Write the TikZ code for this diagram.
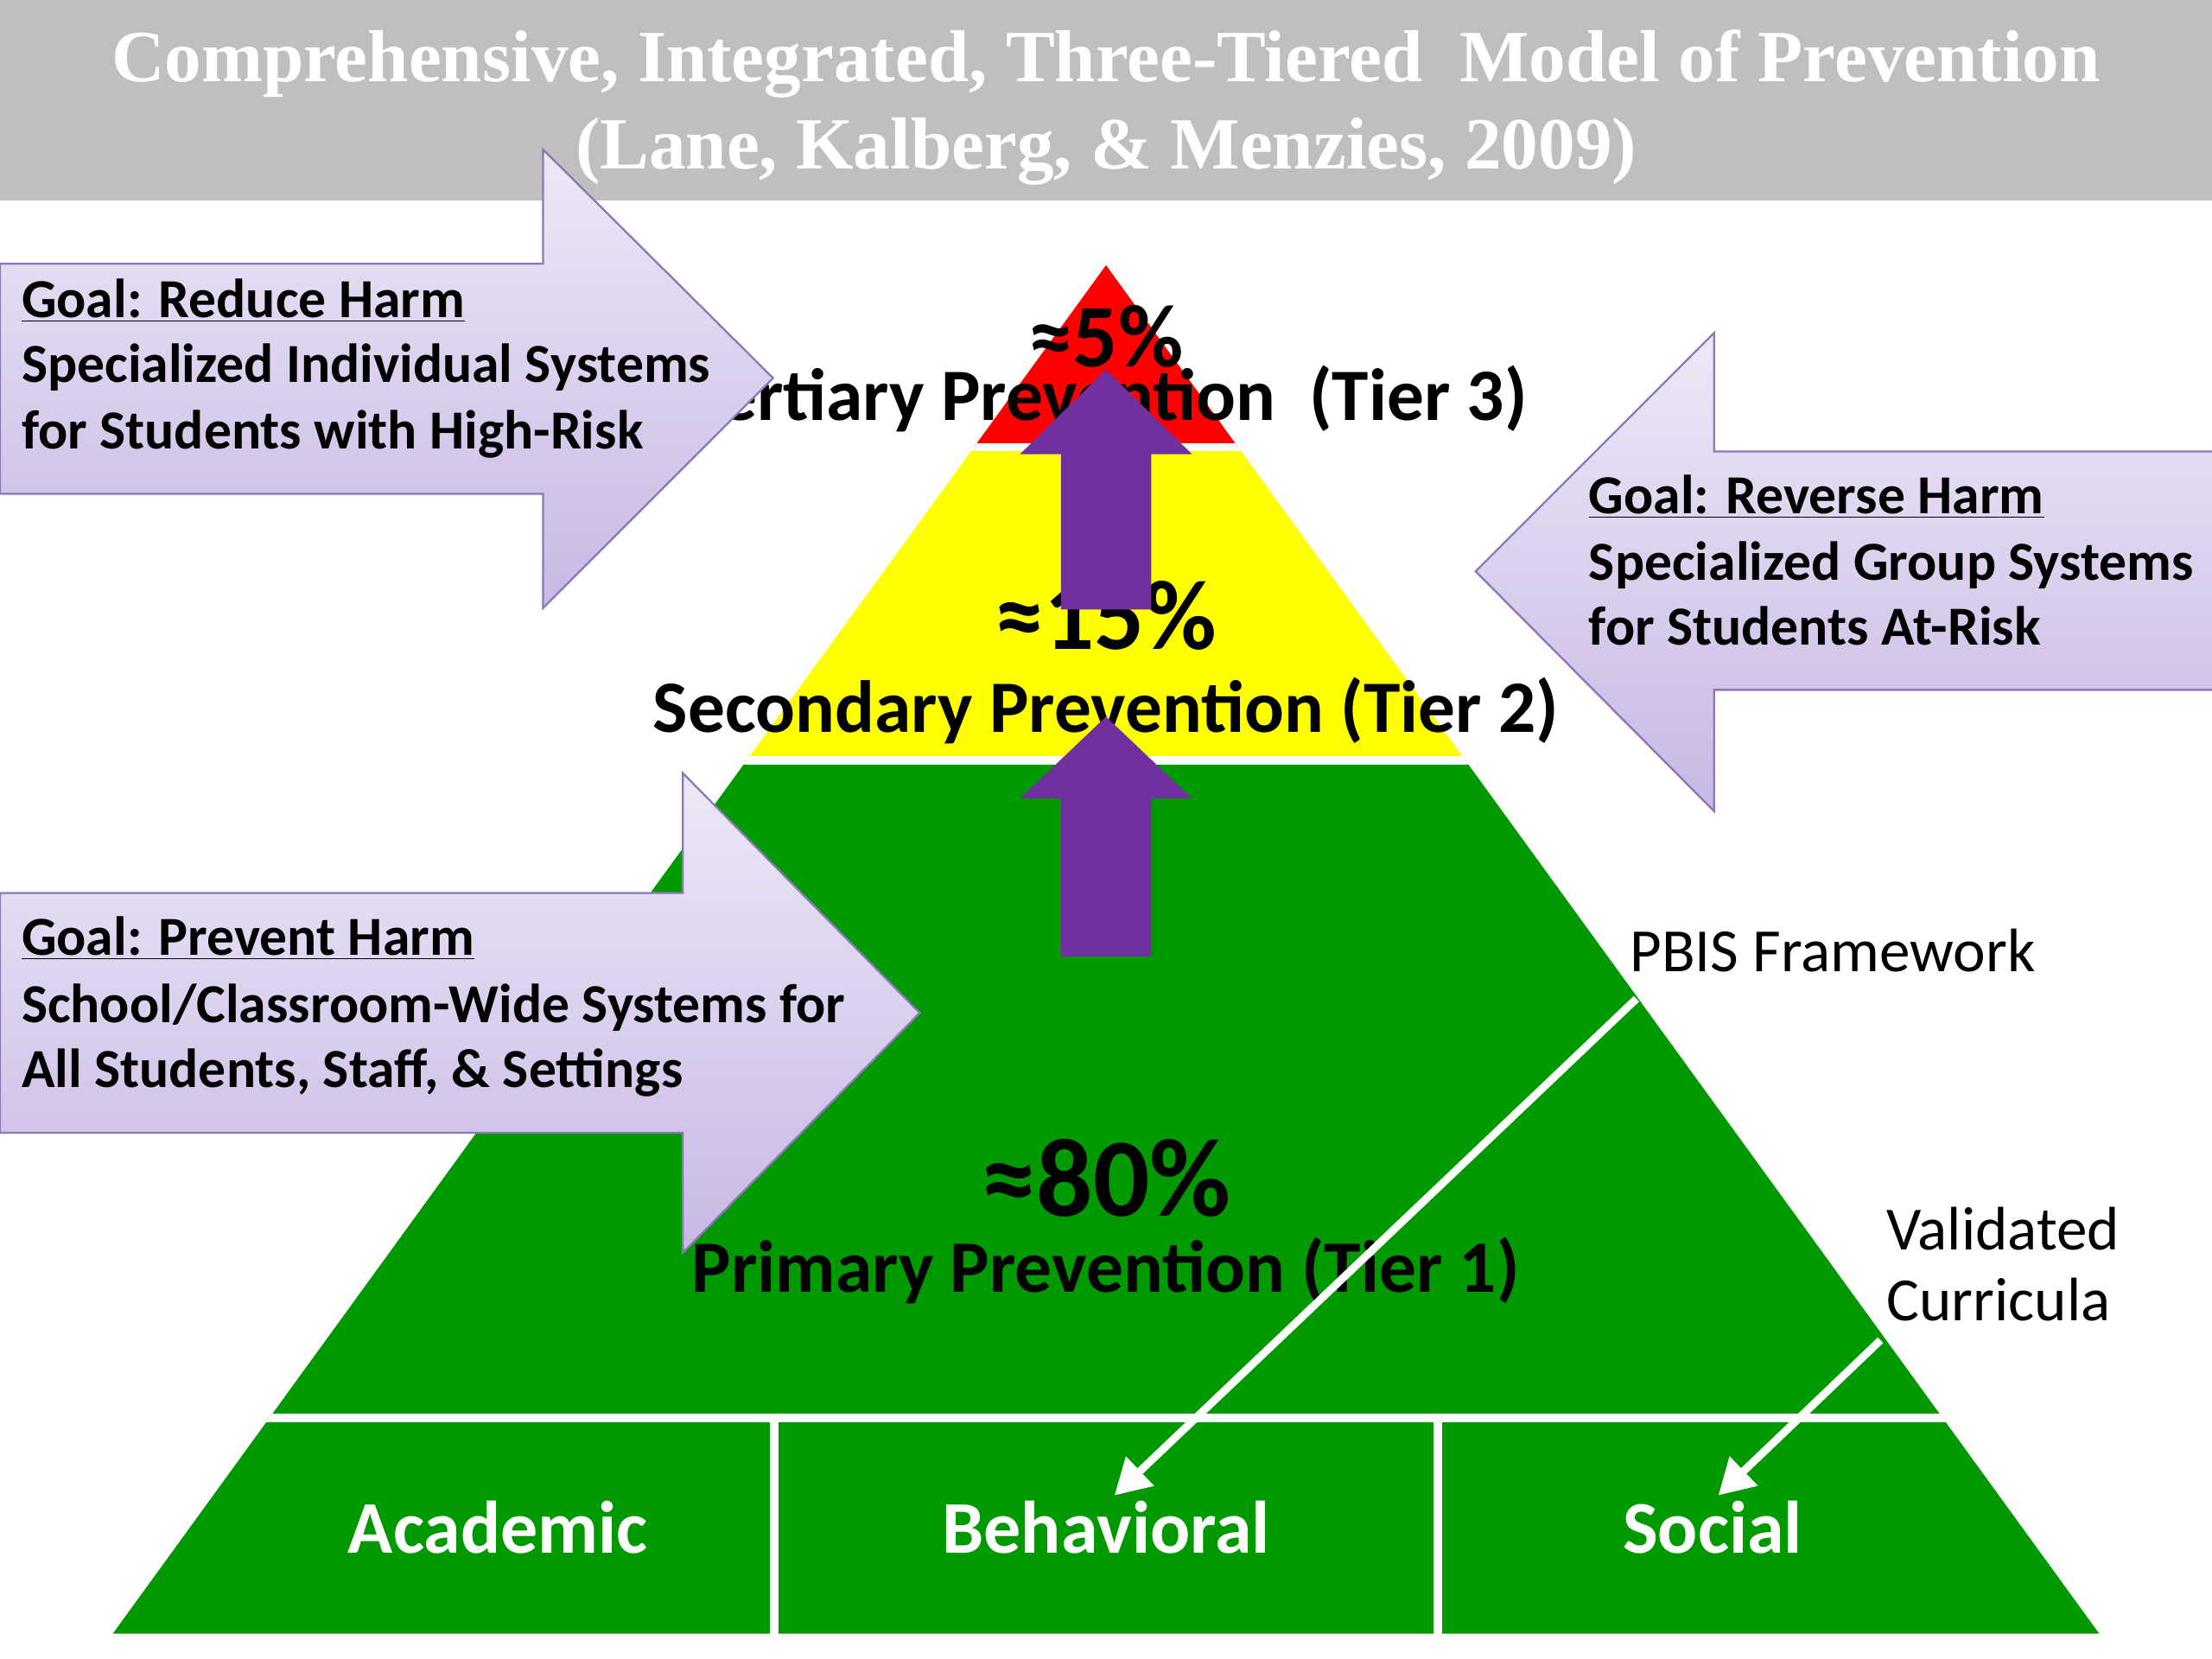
\documentclass[tikz,border=0pt]{standalone}
\usepackage{fontspec}
\setmainfont{Carlito}
\newfontfamily\titlefont{Liberation Serif}
\usepackage{xcolor}
\usetikzlibrary{arrows.meta}

\definecolor{headgrey}{HTML}{BFBFBF}
\definecolor{tierred}{HTML}{FF0000}
\definecolor{tieryellow}{HTML}{FFFF00}
\definecolor{tiergreen}{HTML}{009900}
\definecolor{tierpurple}{HTML}{7030A0}
\definecolor{goaltop}{HTML}{EEE8F7}
\definecolor{goalbottom}{HTML}{C8B8E4}
\definecolor{goaledge}{HTML}{8A78B8}

\begin{document}
\begin{tikzpicture}[x=0.02cm, y=-0.02cm,
    title/.style={anchor=base, text=white, font=\titlefont\bfseries\fontsize{29.7}{32}\selectfont},
    tierlabel/.style={anchor=base, font=\bfseries\fontsize{29.8}{32}\selectfont},
    percent/.style={anchor=base, font=\bfseries\fontsize{40}{44}\selectfont},
    strand/.style={anchor=base, text=white, font=\bfseries\fontsize{30}{32}\selectfont},
    goalarrow/.style={top color=goaltop, bottom color=goalbottom, draw=goaledge, line width=0.8pt},
    goaltext/.style={anchor=base west, inner sep=0pt, font=\bfseries\fontsize{22.2}{26}\selectfont},
    sidelabel/.style={anchor=base west, inner sep=0pt, font=\fontsize{24.8}{28}\selectfont},
    gap/.style={white, line width=0.12cm},
    pointer/.style={white, line width=0.11cm, -{Triangle[length=0.5cm, width=0.55cm]}}]

  % Frame
  \useasboundingbox (0,0) rectangle (1568,1176);
  \fill[white] (0,0) rectangle (1568,1176);

  % Header
  \fill[headgrey] (0,0) rectangle (1568,142);
  \node[title] (title1) at (784,58) {Comprehensive, Integrated, Three-Tiered\ \ Model of Prevention};
  \node[title] (title2) at (784,120) {(Lane, Kalberg, \& Menzies, 2009)};

  % Pyramid layers
  \begin{scope}
    \clip (784,188) -- (1488,1158) -- (80,1158) -- cycle;
    \fill[tierred] (0,188) rectangle (1568,317);
    \fill[tieryellow] (0,317) rectangle (1568,539);
    \fill[tiergreen] (0,539) rectangle (1568,1158);
    \draw[gap] (0,317) -- (1568,317);
    \draw[gap] (0,539) -- (1568,539);
    \draw[gap] (0,1005) -- (1568,1005);
  \end{scope}
  \draw[gap] (549,1005) -- (549,1160);
  \draw[gap] (1019,1005) -- (1019,1160);

  % Tier labels
  \node[percent, font=\bfseries\fontsize{36}{40}\selectfont] (tier3pct) at (784,260) {≈5\%};
  \node[tierlabel] (tier3) at (786,298) {Tertiary Prevention\ \ (Tier 3)};
  \node[percent] (tier2pct) at (784,460) {≈15\%};
  \node[tierlabel] (tier2) at (784,519) {Secondary Prevention (Tier 2)};
  \node[percent, font=\bfseries\fontsize{45}{48}\selectfont] (tier1pct) at (784,862) {≈80\%};
  \node[tierlabel] (tier1) at (784,916) {Primary Prevention (Tier 1)};

  % Strands
  \node[strand] (academic) at (353,1101) {Academic};
  \node[strand] (behavioral) at (784,1101) {Behavioral};
  \node[strand] (social) at (1214,1101) {Social};

  % Movement between tiers
  \fill[tierpurple] (752,432) -- (752,322) -- (723,322) -- (784,262) -- (845,322) -- (816,322) -- (816,432) -- cycle;
  \fill[tierpurple] (752,678) -- (752,566) -- (723,566) -- (784,508) -- (845,566) -- (816,566) -- (816,678) -- cycle;

  % Goal: reduce harm
  \draw[goalarrow] (0,187) -- (385,187) -- (385,106) -- (548,268) -- (385,431) -- (385,350) -- (0,350) -- cycle;
  \node[goaltext] (reduce) at (15,225) {\underline{Goal: Reduce Harm}};
  \node[goaltext] (reduce2) at (15,271) {Specialized Individual Systems};
  \node[goaltext] (reduce3) at (15,318) {for Students with High-Risk};

  % Goal: reverse harm
  \draw[goalarrow] (1568,320) -- (1215,320) -- (1215,236) -- (1046,405) -- (1215,575) -- (1215,489) -- (1568,489);
  \node[goaltext] (reverse) at (1126,364) {\underline{Goal: Reverse Harm}};
  \node[goaltext] (reverse2) at (1126,411) {Specialized Group Systems};
  \node[goaltext] (reverse3) at (1126,457) {for Students At-Risk};

  % Goal: prevent harm
  \draw[goalarrow] (0,633) -- (484,633) -- (484,548) -- (652,718) -- (484,888) -- (484,803) -- (0,803) -- cycle;
  \node[goaltext] (prevent) at (15,677) {\underline{Goal: Prevent Harm}};
  \node[goaltext] (prevent2) at (15,725) {School/Classroom-Wide Systems for};
  \node[goaltext] (prevent3) at (15,771) {All Students, Staff, \& Settings};

  % Supports
  \node[sidelabel] (pbis) at (1155,689) {PBIS Framework};
  \node[sidelabel] (validated) at (1337,886) {Validated};
  \node[sidelabel] (curricula) at (1337,936) {Curricula};
  \coordinate (pbisfoot) at (1160,708);
  \coordinate (curfoot) at (1333,950);
  \coordinate (behtop) at (790,1060);
  \coordinate (soctop) at (1218,1060);
  \draw[pointer] (pbisfoot) -- (behtop);
  \draw[pointer] (curfoot) -- (soctop);
\end{tikzpicture}
\end{document}
